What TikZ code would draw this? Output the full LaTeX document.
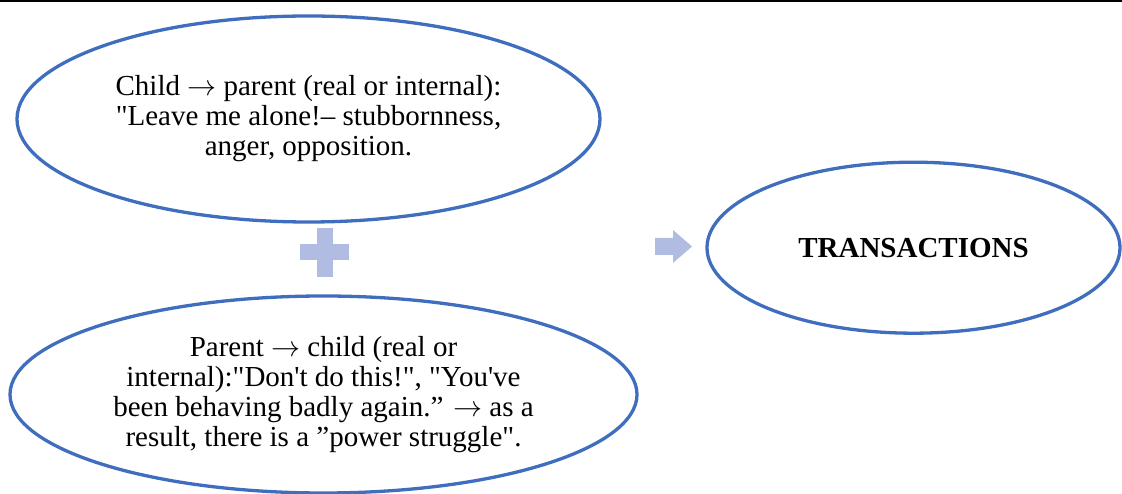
\RequirePackage{fix-cm}
\documentclass[tikz,border=0pt]{standalone}
\usepackage{fontspec}
\newfontfamily\wordfont{Liberation Serif}
\usetikzlibrary{shapes.geometric}
\definecolor{ringblue}{RGB}{64,110,190}
\definecolor{signblue}{RGB}{176,188,225}
\newcommand{\toarrow}{\ensuremath{\rightarrow}}

\begin{document}
\begin{tikzpicture}[x=1pt,y=-1pt,
  bubble/.style={ellipse,draw=ringblue,line width=3.3pt,inner sep=0pt,
    align=center,font=\wordfont\fontsize{29}{30}\selectfont}]
\useasboundingbox (0,0) rectangle (1122,494);
% Top rule
\fill[black] (0,0) rectangle (1122,2.2);
% Ellipses
\node[bubble,minimum width=583pt,minimum height=206pt] (child) at (308.5,119)
  {Child \toarrow{} parent (real or internal):\\"Leave me alone!– stubbornness,\\anger, opposition.};
\node[bubble,minimum width=627pt,minimum height=197pt] (parent) at (323.5,394.5)
  {Parent \toarrow{} child (real or\\internal):"Don't do this!", "You've\\been behaving badly again.” \toarrow{} as a\\result, there is a ”power struggle".};
\node[bubble,minimum width=413pt,minimum height=171pt] (trans) at (913.5,247.7)
  {\bfseries TRANSACTIONS};
% Plus sign
\fill[signblue] (300,244.5) rectangle (349,260.5);
\fill[signblue] (316.5,228) rectangle (332.5,277);
% Arrow
\fill[signblue] (655,238) -- (673,238) -- (673,230) -- (692,246.5)
  -- (673,263) -- (673,255) -- (655,255) -- cycle;
\end{tikzpicture}
\end{document}
